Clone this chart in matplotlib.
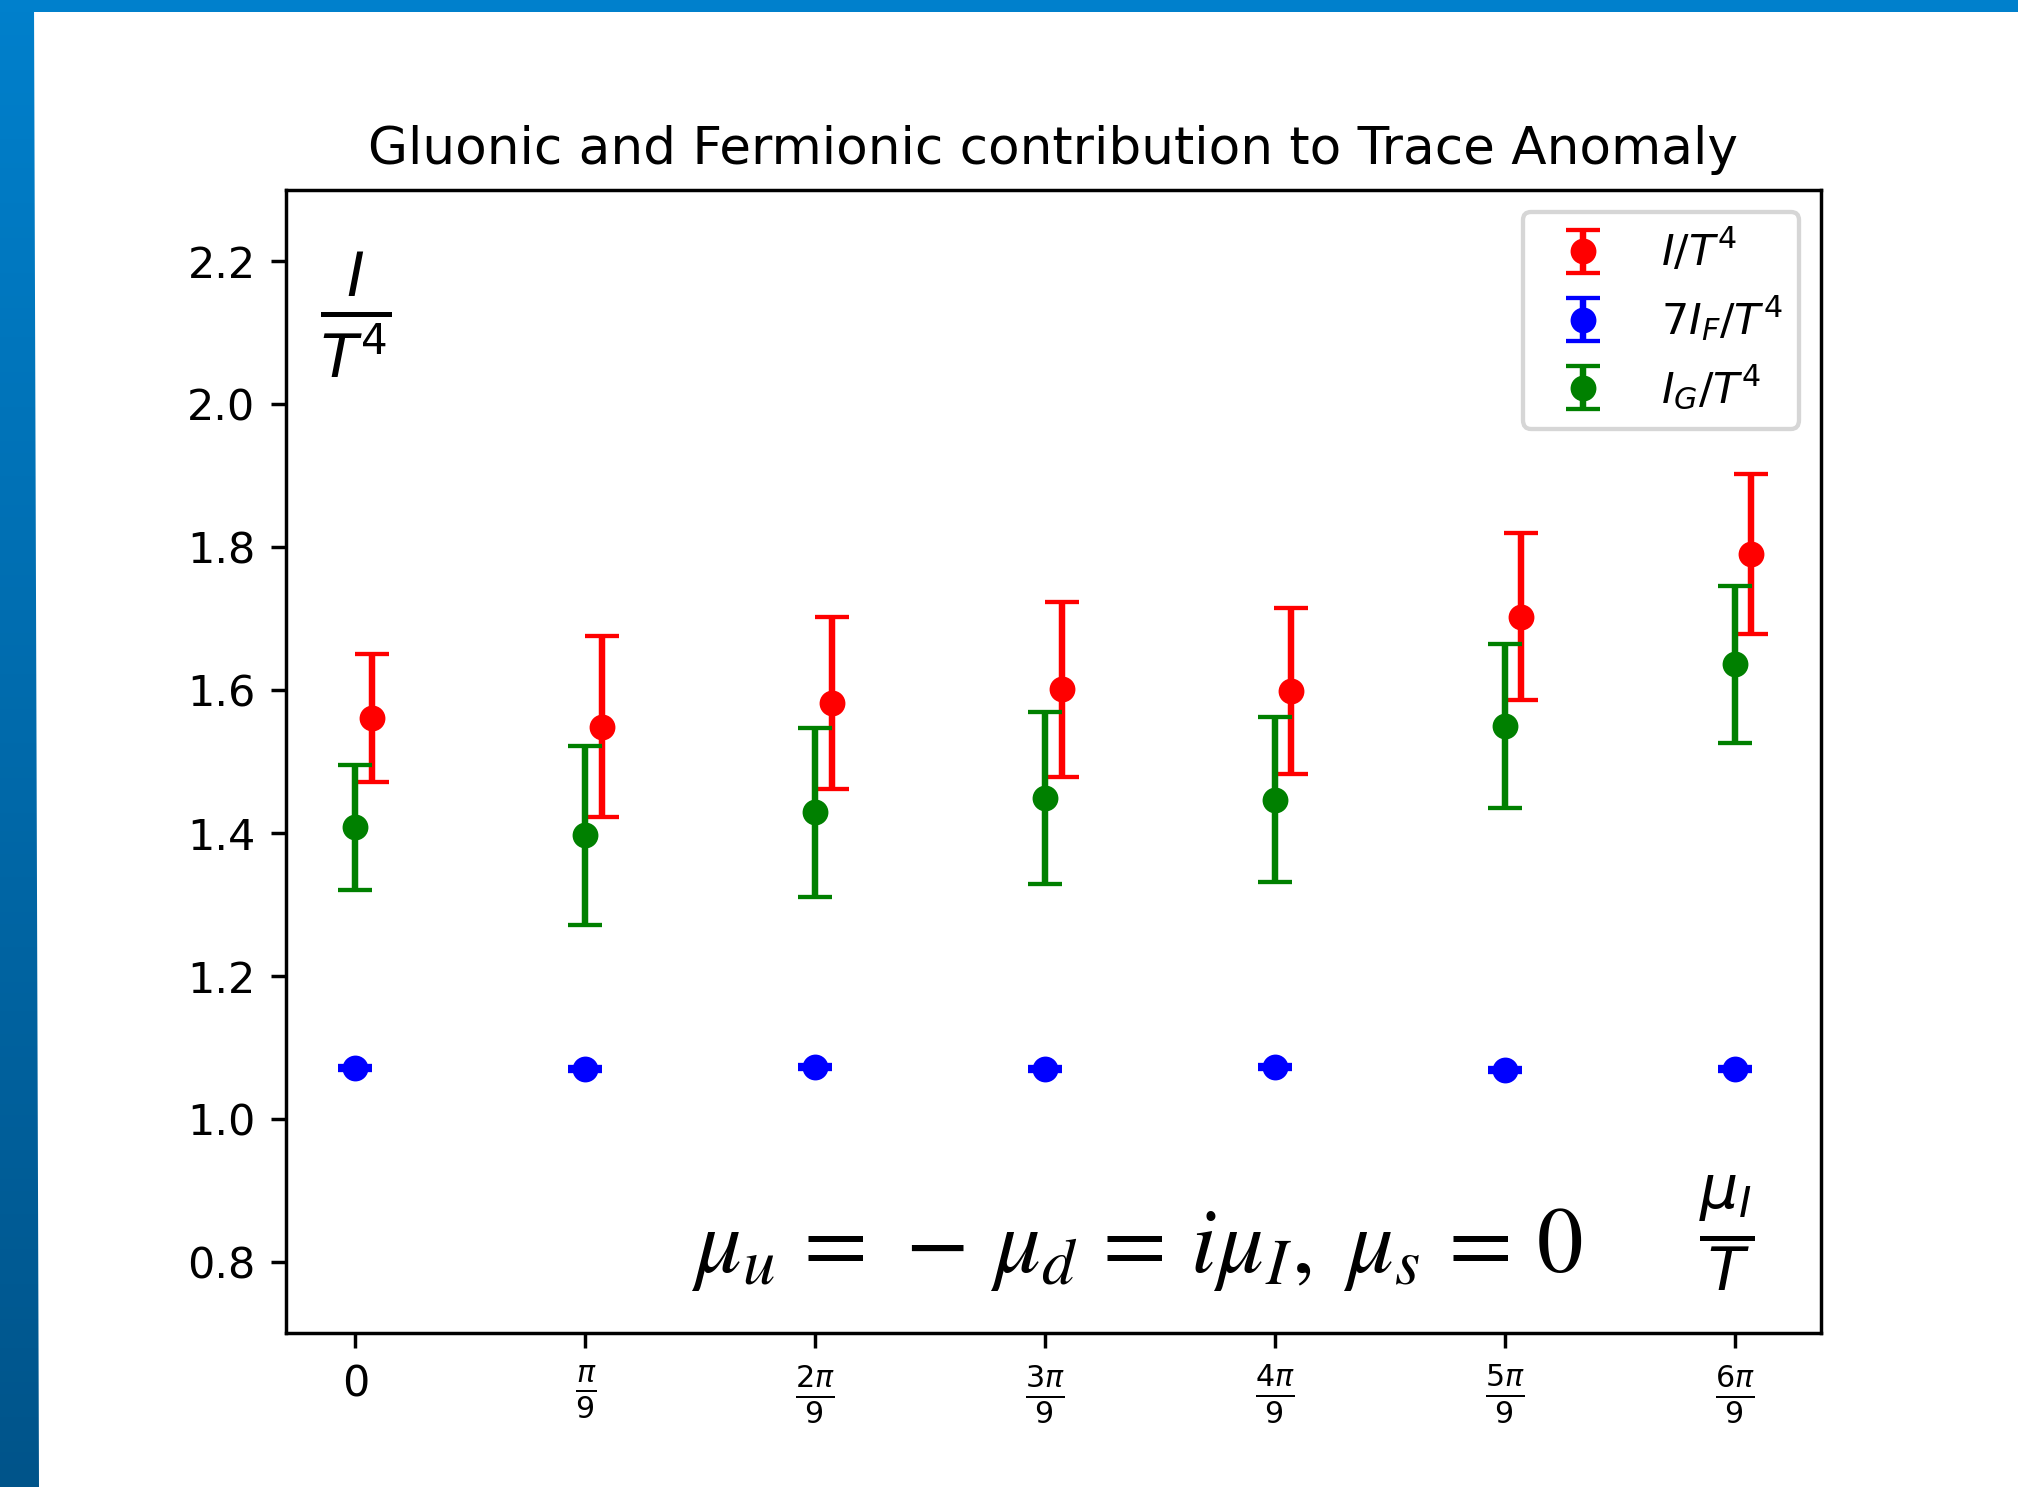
import numpy as np
import matplotlib.pyplot as plt
from matplotlib.patches import Polygon

# chemical potential mu_I/T in units of pi/9
mu_over_T = np.arange(7) * np.pi / 9
tick_labels = ['0', r'$\frac{\pi}{9}$', r'$\frac{2\pi}{9}$', r'$\frac{3\pi}{9}$',
               r'$\frac{4\pi}{9}$', r'$\frac{5\pi}{9}$', r'$\frac{6\pi}{9}$']

# total trace anomaly I/T^4
I_total = [1.561, 1.549, 1.582, 1.601, 1.599, 1.703, 1.790]
I_total_err = [0.090, 0.127, 0.120, 0.122, 0.116, 0.117, 0.112]

# fermionic part 7 I_F/T^4
I_ferm = [1.071, 1.070, 1.073, 1.070, 1.073, 1.068, 1.070]
I_ferm_err = [0.003, 0.003, 0.003, 0.003, 0.003, 0.003, 0.003]

# gluonic part I_G/T^4
I_gluon = [1.408, 1.397, 1.429, 1.449, 1.447, 1.550, 1.636]
I_gluon_err = [0.088, 0.125, 0.118, 0.120, 0.115, 0.115, 0.110]

shift = 0.025  # small horizontal offset for the total, so bars don't overlap

dpi = 310
W, H = 2018, 1487
fig = plt.figure(figsize=(W / dpi, H / dpi), dpi=dpi)

# blue frame: left band with vertical gradient, slightly wider at the bottom
top_col = np.array([0, 128, 204]) / 255
bot_col = np.array([0, 84, 138]) / 255
bw = 40
band = fig.add_axes([0, 0, bw / W, 1])
grad = np.linspace(0, 1, 256)[:, None, None]
img = top_col * (1 - grad) + bot_col * grad
im = band.imshow(img, aspect='auto', extent=[0, bw, 0, H])
clip = Polygon([(0, 0), (39, 0), (34, H), (0, H)], closed=True,
               transform=band.transData, facecolor='none', edgecolor='none')
band.add_patch(clip)
im.set_clip_path(clip)
band.set_xlim(0, bw)
band.set_ylim(0, H)
band.axis('off')
top = fig.add_axes([0, 1 - 12 / H, 1, 12 / H])
top.set_facecolor(top_col)
top.set_xticks([])
top.set_yticks([])
for s in top.spines.values():
    s.set_visible(False)

ax = fig.add_axes([285.7 / W, 1 - 1333.3 / H, 1535.3 / W, 1143.3 / H])

ax.errorbar(mu_over_T + shift, I_total, yerr=I_total_err, fmt='o', color='red',
            ms=5, capsize=4, label=r'$I/T^4$')
ax.errorbar(mu_over_T, I_ferm, yerr=I_ferm_err, fmt='o', color='blue',
            ms=5, capsize=4, label=r'$7I_F/T^4$')
ax.errorbar(mu_over_T, I_gluon, yerr=I_gluon_err, fmt='o', color='green',
            ms=5, capsize=4, label=r'$I_G/T^4$')

ax.set_ylim(0.7, 2.3)
ax.set_xticks(mu_over_T)
ax.set_xticklabels(tick_labels)
ax.set_title('Gluonic and Fermionic contribution to Trace Anomaly', fontsize=12)

ax.text(0, 2.125, r'$\frac{I}{T^4}$', fontsize=20, ha='center', va='center')
ax.text(6 * np.pi / 9 - 0.013, 0.84, r'$\frac{\mu_I}{T}$', fontsize=20,
        ha='center', va='center')
ax.text(0.51, 0.786, r'$\mu_u \,=\, -\,\mu_d \,=\, i\mu_I,\; \mu_s \,=\, 0$',
        fontsize=21.5, math_fontfamily='stix', ha='left', va='baseline')

ax.legend(loc='upper right', labelspacing=0.45)

fig.savefig('out.png', dpi=dpi)
